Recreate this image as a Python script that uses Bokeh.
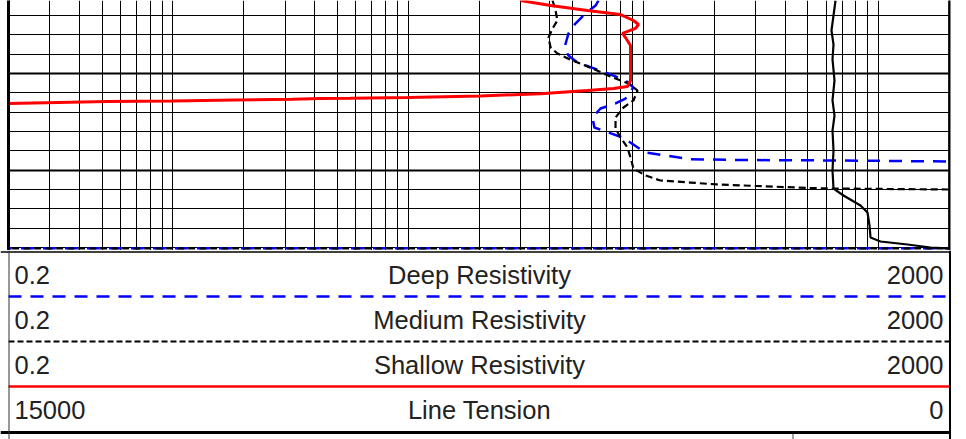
from bokeh.plotting import figure
from bokeh.models import Range1d, LinearScale, FixedTicker, Grid, Span, LinearAxis
from bokeh.layouts import column
from bokeh.embed import file_html
from bokeh.resources import INLINE
from bokeh.core.properties import value

# ---------------- data ----------------
# Deep resistivity (blue dashed), ohm.m vs depth (ft)
deep_depth = [4702.45, 4702.97, 4703.79, 4704.83, 4705.86, 4707.31, 4708.14, 4708.86,
              4709.90, 4710.72, 4711.45, 4712.59, 4713.10, 4713.62, 4714.55, 4715.59,
              4716.00, 4716.62, 4718.17, 4718.48, 4718.87, 4718.95, 4719.00, 4719.10,
              4719.12, 4728.08, 4728.08]
deep_res = [64.4, 62.6, 56.7, 51.4, 48.0, 46.2, 48.0, 52.4,
            69.0, 83.9, 90.7, 83.9, 76.1, 65.7, 60.7, 61.9,
            69.0, 81.5, 102, 124, 158, 259, 688, 1961,
            2400, 2400, 0.15]

# Medium resistivity (black short dash)
medium_depth = [4702.45, 4703.48, 4704.52, 4705.34, 4706.28, 4707.31, 4707.93, 4708.66,
                4709.48, 4710.41, 4711.03, 4711.76, 4712.79, 4713.52, 4714.55, 4715.69,
                4716.62, 4717.65, 4718.69, 4719.83, 4720.55, 4721.07, 4721.28, 4721.48,
                4721.64, 4721.84, 4721.90, 4722.00, 4722.02, 4728.08, 4728.08]
medium_res = [41.1, 42.3, 43.1, 41.1, 39.5, 40.3, 43.1, 49.9,
              60.7, 73.9, 86.4, 94.4, 90.7, 82.3, 76.1, 76.1,
              79.9, 85.5, 88.1, 90.7, 102, 118, 158, 206,
              305, 498, 643, 1961, 2400, 2400, 0.15]

# Shallow resistivity (red solid)
shallow_depth = [4702.45, 4702.97, 4703.48, 4703.90, 4704.52, 4704.93, 4705.34, 4705.86,
                 4706.28, 4707.10, 4710.72, 4711.34, 4711.55, 4711.76, 4712.10, 4712.17,
                 4712.33, 4712.48, 4712.56, 4712.59, 4712.67, 4712.74, 4712.84, 4712.90,
                 4713.05, 4713.10, 4713.15]
shallow_res = [30.0, 40.3, 57.8, 79.9, 90.7, 95.3, 92.5, 81.5,
               83.9, 88.1, 88.1, 85.5, 74.6, 57.8, 36.5, 30.0,
               20.3, 10.0, 5.68, 4.24, 3.22, 1.81, 1.00, 0.527,
               0.255, 0.2, 0.15]

# Line tension (black solid), lbf, scale 15000 -> 0
tension_depth = [4702.45, 4704.00, 4705.55, 4707.00, 4708.55, 4710.72, 4712.79, 4714.35,
                 4715.90, 4717.97, 4720.04, 4721.90, 4722.62, 4723.65, 4724.38, 4725.72,
                 4726.96, 4727.38, 4727.69, 4728.00, 4728.10]
tension = [1817, 1849, 1881, 1849, 1865, 1833, 1865, 1833,
           1865, 1849, 1865, 1849, 1690, 1419, 1307, 1275,
           1259, 1100, 669, 303, 32]

# Header table
header_names = ["Deep Resistivity", "Medium Resistivity", "Shallow Resistivity", "Line Tension"]
header_left = ["0.2", "0.2", "0.2", "15000"]
header_right = ["2000", "2000", "2000", "0"]

# Depth grid
depth_minor = list(range(4704, 4729, 2))
depth_major = [4710, 4720]

X_MIN, X_MAX = 0.2, 2000
TOP_DEPTH, BOTTOM_DEPTH = 4702.45, 4728.31
T_LEFT, T_RIGHT = 15000, 0

FONT = value("Liberation Sans")
TEXT_COLOR = "#222222"

grid_x = [m * 10.0 ** e for e in range(-1, 4) for m in range(1, 10)
          if X_MIN * 1.0001 < m * 10.0 ** e < X_MAX * 0.9999]

# ---------------- log track ----------------
p = figure(width=966, height=250, x_axis_type="log",
           x_range=Range1d(X_MIN, X_MAX), y_range=Range1d(BOTTOM_DEPTH, TOP_DEPTH),
           output_backend="svg", toolbar_location=None,
           min_border_left=8, min_border_right=17, min_border_top=0, min_border_bottom=0,
           outline_line_color=None, background_fill_color="white",
           border_fill_color="white")
p.xaxis.visible = False


def border_axis(ax, width):
    ax.axis_line_color = "black"
    ax.axis_line_width = width
    ax.major_tick_line_color = None
    ax.minor_tick_line_color = None
    ax.major_tick_out = 0
    ax.major_tick_in = 0
    ax.minor_tick_out = 0
    ax.minor_tick_in = 0
    ax.major_label_text_font_size = "0px"
    ax.major_label_text_color = None
    ax.major_label_standoff = 0
    ax.axis_label = None


border_axis(p.yaxis[0], 3)
right_axis = LinearAxis()
border_axis(right_axis, 2)
p.add_layout(right_axis, "right")

p.xgrid.ticker = FixedTicker(ticks=grid_x)
p.xgrid.grid_line_color = "black"
p.xgrid.grid_line_width = 1
p.ygrid.ticker = FixedTicker(ticks=depth_minor)
p.ygrid.grid_line_color = "black"
p.ygrid.grid_line_width = 1
p.add_layout(Grid(dimension=1, ticker=FixedTicker(ticks=depth_major),
                  grid_line_color="black", grid_line_width=2))

p.extra_x_ranges = {"tension": Range1d(T_LEFT, T_RIGHT)}
p.extra_x_scales = {"tension": LinearScale()}

p.line(deep_res, deep_depth, line_color="#0000ff", line_width=2.5, line_dash="13 9")
p.line(medium_res, medium_depth, line_color="black", line_width=2.2, line_dash="7 4")
p.line(shallow_res, shallow_depth, line_color="#ff0000", line_width=3)
p.line(tension, tension_depth, x_range_name="tension", line_color="black", line_width=2.2)

p.add_layout(Span(location=X_MIN, dimension="height", line_color="black", line_width=3))
p.add_layout(Span(location=X_MAX, dimension="height", line_color="black", line_width=2.5))

# ---------------- header (page-pixel coordinates) ----------------
h = figure(width=966, height=189, x_range=Range1d(0, 966), y_range=Range1d(439, 250),
           output_backend="svg", toolbar_location=None, min_border=0,
           outline_line_color=None, background_fill_color="white",
           border_fill_color="white")
h.axis.visible = False
h.grid.visible = False

row_styles = [("#0000ff", 2.5, "13 9"), ("black", 2.2, "6 3"),
              ("#ff0000", 2.5, "solid")]
ROW_H = 45
text_y = [274 + ROW_H * i for i in range(len(header_names))]
for i, (c, w, d) in enumerate(row_styles):
    yy = 296 + ROW_H * i
    h.segment(x0=[8], y0=[yy], x1=[950], y1=[yy], line_color=c, line_width=w, line_dash=d)

h.segment(x0=[0, 0], y0=[251.5, 432], x1=[950, 950], y1=[251.5, 432],
          line_color="black", line_width=[1.5, 3])
h.segment(x0=[8.5, 949.5, 792.5], y0=[250, 250, 433], x1=[8.5, 949.5, 792.5], y1=[439, 439, 439],
          line_color=["#333333", "black", "#444444"], line_width=[1, 2, 1])

common = dict(text_font=FONT, text_font_size="25.5px", text_color=TEXT_COLOR,
              text_baseline="middle")
h.text(x=[14] * 4, y=text_y, text=header_left, text_align="left", **common)
h.text(x=[479] * 4, y=text_y, text=header_names, text_align="center", **common)
h.text(x=[943] * 4, y=text_y, text=header_right, text_align="right", **common)

layout = column(p, column(h, spacing=0), spacing=0)
open("out.html", "w").write(file_html(layout, INLINE))
